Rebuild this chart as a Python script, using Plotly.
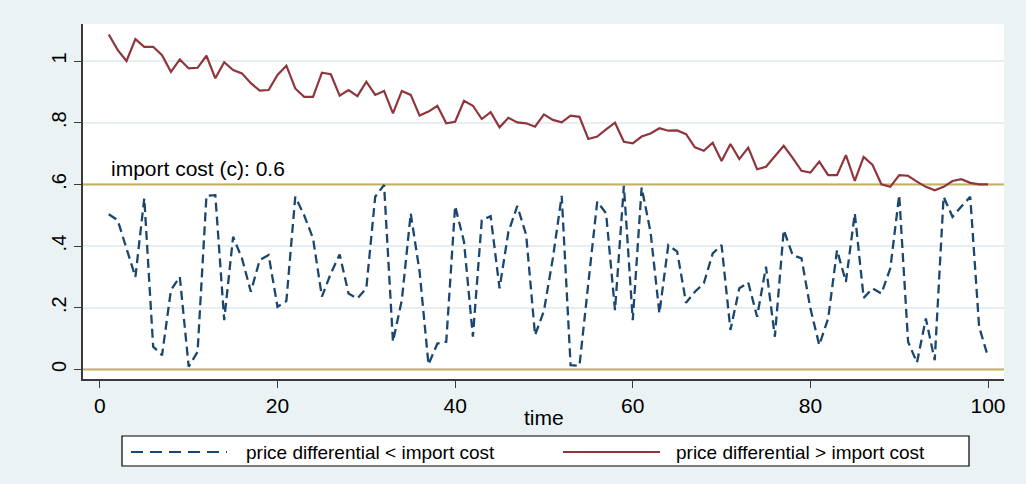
import plotly.graph_objects as go

# ---------------- data ----------------
time = list(range(1, 101))

price_diff_above = [
    1.086, 1.036, 1.000, 1.071, 1.046, 1.046, 1.019, 0.965, 1.005, 0.976,
    0.978, 1.017, 0.944, 0.996, 0.971, 0.960, 0.928, 0.904, 0.906, 0.955,
    0.985, 0.911, 0.884, 0.884, 0.962, 0.957, 0.888, 0.906, 0.886, 0.933,
    0.890, 0.903, 0.830, 0.903, 0.890, 0.823, 0.836, 0.855, 0.798, 0.803,
    0.871, 0.855, 0.812, 0.834, 0.785, 0.816, 0.801, 0.798, 0.787, 0.827,
    0.809, 0.801, 0.823, 0.819, 0.747, 0.755, 0.778, 0.800, 0.738, 0.733,
    0.755, 0.765, 0.782, 0.774, 0.775, 0.763, 0.720, 0.709, 0.735, 0.676,
    0.731, 0.682, 0.719, 0.649, 0.657, 0.690, 0.725, 0.686, 0.644, 0.638,
    0.674, 0.630, 0.630, 0.695, 0.611, 0.689, 0.663, 0.600, 0.592, 0.630,
    0.628, 0.609, 0.592, 0.581, 0.592, 0.611, 0.617, 0.605, 0.600, 0.600,
]

price_diff_below = [
    0.503, 0.484, 0.392, 0.300, 0.555, 0.074, 0.046, 0.257, 0.300, 0.009,
    0.057, 0.563, 0.565, 0.160, 0.430, 0.360, 0.252, 0.355, 0.371, 0.203,
    0.222, 0.560, 0.500, 0.425, 0.236, 0.311, 0.373, 0.246, 0.230, 0.263,
    0.560, 0.598, 0.090, 0.225, 0.506, 0.317, 0.016, 0.084, 0.090, 0.530,
    0.414, 0.106, 0.484, 0.497, 0.263, 0.446, 0.530, 0.436, 0.111, 0.190,
    0.360, 0.563, 0.014, 0.012, 0.280, 0.544, 0.506, 0.192, 0.595, 0.160,
    0.590, 0.446, 0.182, 0.403, 0.382, 0.216, 0.252, 0.279, 0.376, 0.403,
    0.128, 0.263, 0.282, 0.171, 0.333, 0.106, 0.452, 0.371, 0.360, 0.198,
    0.079, 0.165, 0.387, 0.284, 0.506, 0.232, 0.263, 0.246, 0.328, 0.565,
    0.090, 0.022, 0.165, 0.030, 0.560, 0.495, 0.528, 0.560, 0.138, 0.041,
]

import_cost = 0.6
lower_bound = 0.0
x_range = [-1.9, 101.8]
y_range = [-0.031, 1.12]
x_ticks = [0, 20, 40, 60, 80, 100]
y_ticks = [0, 0.2, 0.4, 0.6, 0.8, 1.0]
y_tick_labels = ["0", ".2", ".4", ".6", ".8", "1"]
x_title = "time"
label_below = "price differential < import cost"
label_above = "price differential > import cost"
annotation_text = f"import cost (c): {import_cost}"

# ---------------- style ----------------
NAVY = "#1A476F"
MAROON = "#90353B"
OLIVE = "#C4B25E"
BG = "#EAF2F3"
GRID = "#E6EEF2"
AXIS = "#3A3A3A"
FONT = "Liberation Sans, Arial, sans-serif"

W, H = 1026, 484
ML, MR, MT, MB = 83, 22, 24, 105
PW, PH = W - ML - MR, H - MT - MB


def px_x(px):
    return (px - ML) / PW


def px_y(py):
    return (H - MB - py) / PH


fig = go.Figure()

# reference lines (y = 0 and y = import cost), drawn above the grid
for yv in (lower_bound, import_cost):
    fig.add_trace(go.Scatter(
        x=x_range, y=[yv, yv], mode="lines", hoverinfo="skip",
        line=dict(color=OLIVE, width=2), showlegend=False,
    ))

fig.add_trace(go.Scatter(
    x=time, y=price_diff_below, mode="lines", name=label_below,
    line=dict(color=NAVY, width=2.3, dash="9px,5px"), showlegend=False,
))
fig.add_trace(go.Scatter(
    x=time, y=price_diff_above, mode="lines", name=label_above,
    line=dict(color=MAROON, width=2.2), showlegend=False,
))

shapes = []
# legend box drawn manually (Stata-like long keys)
shapes.append(dict(type="rect", xref="paper", yref="paper",
                   x0=px_x(122), x1=px_x(969), y0=px_y(466), y1=px_y(436),
                   line=dict(color="black", width=1.2), fillcolor="white"))
shapes.append(dict(type="line", xref="paper", yref="paper",
                   x0=px_x(131), x1=px_x(227), y0=px_y(452), y1=px_y(452),
                   line=dict(color=NAVY, width=2, dash="12px,7px")))
shapes.append(dict(type="line", xref="paper", yref="paper",
                   x0=px_x(563), x1=px_x(660), y0=px_y(452), y1=px_y(452),
                   line=dict(color=MAROON, width=2)))

annotations = [
    dict(x=time[0], y=import_cost, xref="x", yref="y", text=annotation_text,
         showarrow=False, xanchor="left", yanchor="bottom", yshift=2,
         font=dict(family=FONT, size=21, color="black")),
    dict(x=0.5, y=px_y(417), xref="paper", yref="paper", text=x_title,
         showarrow=False, xanchor="center", yanchor="middle",
         font=dict(family=FONT, size=21, color="black")),
    dict(x=px_x(244), y=px_y(452), xref="paper", yref="paper", text=label_below,
         showarrow=False, xanchor="left", yanchor="middle",
         font=dict(family=FONT, size=19, color="black")),
    dict(x=px_x(674), y=px_y(452), xref="paper", yref="paper", text=label_above,
         showarrow=False, xanchor="left", yanchor="middle",
         font=dict(family=FONT, size=19, color="black")),
]

fig.update_layout(
    width=W, height=H,
    margin=dict(l=ML, r=MR, t=MT, b=MB, autoexpand=False),
    paper_bgcolor=BG, plot_bgcolor="white",
    font=dict(family=FONT, size=20, color="black"),
    shapes=shapes, annotations=annotations,
    showlegend=False,
)

fig.update_xaxes(
    range=x_range, tickvals=x_ticks, ticks="outside", ticklen=7,
    tickwidth=1.3, tickcolor=AXIS, showline=True, linecolor=AXIS, linewidth=1.5,
    showgrid=False, zeroline=False, tickfont=dict(size=21),
)
fig.update_yaxes(
    range=y_range, tickvals=y_ticks, ticktext=y_tick_labels,
    tickangle=-90, ticks="outside", ticklen=7, tickwidth=1.3, tickcolor=AXIS,
    showline=True, linecolor=AXIS, linewidth=1.5,
    showgrid=True, gridcolor=GRID, gridwidth=1.5, zeroline=False,
    tickfont=dict(size=20),
)

fig.write_html(
    "out.html",
    config={"displayModeBar": False},
    post_script="document.body.style.margin='0';document.body.style.padding='0';",
)
